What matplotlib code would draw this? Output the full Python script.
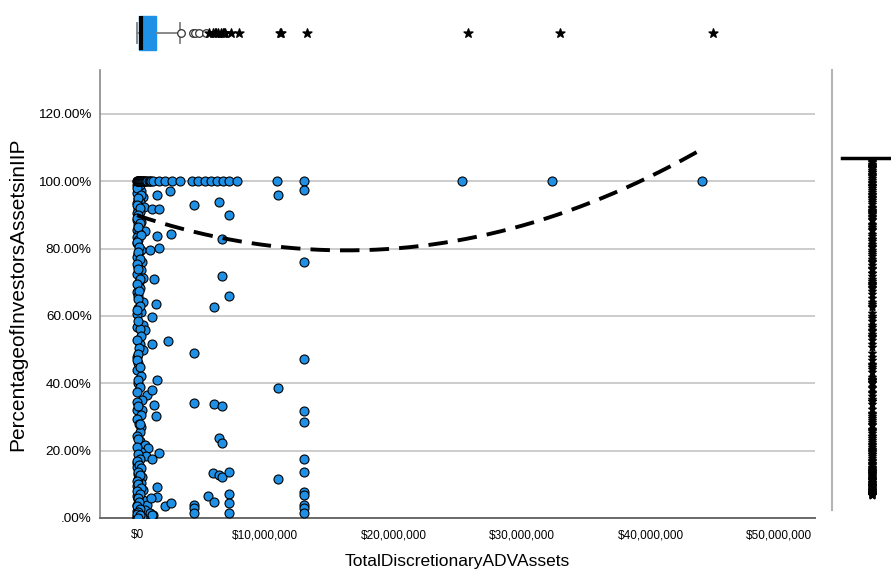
import numpy as np
import matplotlib
matplotlib.use('Agg')
import matplotlib.pyplot as plt

plt.rcParams['font.family'] = ['Liberation Sans', 'DejaVu Sans']

# total discretionary assets (millions of $) and percentage of investors' assets
col_x = [0.0, 0.15, 0.05, 0.3, 0.0, 0.49, 0.1, 0.25, 0.0, 0.55, 0.05, 0.2, 0.0, 0.1,
         0.0, 0.3, 0.05, 0.0, 0.62, 0.15, 0.0, 0.05, 0.0, 0.3, 0.1, 0.0, 0.4, 0.05,
         0.3, 0.0, 0.5, 0.15, 0.1, 0.2, 0.0, 0.05, 0.45, 0.1, 0.3, 0.0, 0.0, 0.5,
         0.6, 0.25, 0.2, 0.5, 0.0, 0.1, 0.0, 0.3, 0.1, 0.76, 0.37, 0.0, 0.0, 0.37,
         0.3, 0.2, 0.0, 0.2, 0.6, 0.85, 0.3, 0.7, 0.0, 0.2, 0.4, 0.3, 0.5, 0.55,
         0.7, 0.0, 0.05, 0.1, 0.0, 0.15, 0.0, 0.1, 0.25, 0.0, 0.3, 0.05, 0.0, 0.2,
         0.1, 0.0, 0.35, 0.0, 0.15, 0.45, 0.5, 0.75, 0.62, 1.0, 1.27, 0.37,
         0.2, 0.0, 0.35, 0.1, 0.0, 0.2, 0.1, 0.0, 0.25, 0.05, 0.3, 0.0, 0.15, 0.05,
         0.2, 0.0, 0.1, 0.25, 0.0, 0.15, 0.05, 0.2, 0.0, 0.1, 0.3, 0.0, 0.15, 0.1,
         0.0, 0.2, 0.05, 0.25, 0.0, 0.1, 0.3, 0.0, 0.15, 0.2, 0.05, 0.0, 0.1, 0.25,
         0.0, 0.15, 0.3, 0.05, 0.2, 0.0, 0.1, 0.35, 0.0, 0.2, 0.05, 0.15, 0.0, 0.25,
         0.1, 0.0, 0.2, 0.05]
col_y = [99.0, 98.2, 97.5, 97.0, 96.4, 95.4, 94.8, 94.0, 93.5, 92.5, 91.8, 91.0, 90.5, 89.3,
         88.5, 88.0, 87.0, 85.5, 85.3, 84.5, 83.5, 82.5, 81.6, 79.6, 78.5, 77.6, 76.1, 74.6,
         73.6, 72.6, 71.4, 70.0, 69.2, 68.2, 67.0, 66.0, 64.2, 62.3, 61.3, 60.5, 56.8, 57.3,
         55.8, 56.2, 51.6, 49.9, 47.9, 45.9, 43.9, 42.2, 40.2, 36.5, 35.0, 34.5, 32.1, 32.1,
         26.9, 25.6, 24.3, 22.9, 21.7, 20.7, 19.7, 18.4, 16.2, 14.3, 12.3, 10.3, 8.3, 4.4,
         2.4, 15.0, 13.0, 11.5, 9.5, 7.5, 6.5, 5.5, 5.0, 4.0, 3.3, 2.8, 2.0, 1.5,
         1.0, 0.5, 0.6, 0.0, 0.2, 0.3, 5.3, 3.9, 2.4, 1.4, 0.9, 0.4,
         98.8, 97.9, 96.0, 95.0, 93.0, 92.0, 90.0, 89.0, 87.5, 86.5, 84.0, 82.0, 80.5, 79.0,
         77.0, 75.5, 74.0, 71.0, 69.5, 67.5, 65.0, 63.0, 61.8, 58.5, 54.0, 53.0, 50.5, 48.8,
         46.8, 44.8, 41.0, 39.0, 37.5, 33.3, 30.5, 29.5, 28.0, 27.8, 23.5, 21.0, 18.9, 17.5,
         16.8, 15.6, 14.8, 13.6, 12.8, 11.0, 10.0, 9.0, 8.0, 7.0, 6.0, 4.8, 3.6, 2.6,
         1.8, 1.2, 0.8, 0.1]

top_x = [0.0, 0.02, 0.05, 0.08, 0.1, 0.12, 0.15, 0.18, 0.2, 0.25, 0.3, 0.35, 0.4, 0.45,
         0.5, 0.55, 0.6, 0.7, 0.8, 0.9, 1.0, 1.1, 1.25, 1.7, 2.2, 2.7, 3.35, 4.26, 4.75,
         5.3, 5.8, 6.2, 6.7, 7.2, 7.8, 10.9, 13.0, 25.3, 32.3, 44.0]
top_y = [100.0] * len(top_x)

mid_x = [1.53, 2.57, 1.14, 1.74, 1.53, 2.65, 1.0, 1.74, 1.3, 1.5, 1.2, 2.45, 1.2, 1.53,
         1.14, 1.3, 1.5, 1.74, 1.14, 1.53, 1.53, 1.07, 2.15, 2.62, 1.14]
mid_y = [96.0, 97.2, 91.7, 91.7, 83.8, 84.2, 79.6, 80.1, 71.0, 63.6, 59.6, 52.6, 51.6, 41.0,
         38.0, 33.5, 30.4, 19.2, 17.4, 9.2, 6.3, 6.0, 3.6, 4.6, 0.9]

far_x = [4.46, 6.4, 7.2, 6.6, 6.6, 7.2, 6.0, 4.46, 4.46, 6.0, 6.65, 6.4, 6.65, 5.95,
         6.4, 6.65, 7.2, 5.5, 6.0, 7.2, 7.2, 7.2, 4.46, 4.46, 4.46, 10.96, 10.96, 10.96,
         13.0, 13.0, 13.0, 13.0, 13.0, 13.0, 13.0, 13.0, 13.0, 13.0, 13.0, 13.0]
far_y = [93.0, 94.0, 90.0, 82.8, 72.0, 65.9, 62.7, 49.0, 34.2, 34.0, 33.4, 23.9, 22.2, 13.3,
         12.8, 12.1, 13.6, 6.6, 4.8, 7.1, 4.5, 1.6, 3.9, 2.9, 1.6, 95.8, 38.7, 11.5,
         97.3, 76.0, 47.1, 31.8, 28.5, 17.5, 13.6, 7.8, 6.8, 3.9, 3.0, 1.6]

# quadratic fit line: y = a + b*x + c*x^2 (x in millions)
fit_coef = [89.9, -1.278, 0.0392]

# marginal boxplot of assets (millions)
box_q1, box_med, box_q3 = 0.18, 0.3, 1.45
box_whislo, box_whishi = 0.0, 3.25
extreme_fence = 5.4

x_ticks = [0, 10, 20, 30, 40, 50]
x_ticklabels = ['$0', '$10,000,000', '$20,000,000', '$30,000,000', '$40,000,000', '$50,000,000']
y_ticks = [0, 20, 40, 60, 80, 100, 120]
y_ticklabels = ['.00%', '20.00%', '40.00%', '60.00%', '80.00%', '100.00%', '120.00%']

blue = '#1E90E6'

x = np.array(col_x + top_x + mid_x + far_x)
y = np.array(col_y + top_y + mid_y + far_y)

W, H = 891, 575
fig = plt.figure(figsize=(W / 100, H / 100), dpi=100)

ax = fig.add_axes([100 / W, 1 - 518 / H, 715 / W, 448 / H])
ax.set_xlim(-37 / 12.84, 678 / 12.84)
ax.set_ylim(0, 448 / 3.367)
ax.scatter(x, y, s=42, c=blue, edgecolors='black', linewidths=0.8, zorder=3)

xf = np.linspace(x.min(), x.max(), 200)
yf = fit_coef[0] + fit_coef[1] * xf + fit_coef[2] * xf ** 2
ax.plot(xf, yf, color='black', lw=2.8, dashes=(5, 2.6), zorder=4)

ax.set_xticks(x_ticks)
ax.set_xticklabels(x_ticklabels, fontsize=8.5)
ax.set_yticks(y_ticks)
ax.set_yticklabels(y_ticklabels, fontsize=9.7)
ax.tick_params(length=0, pad=8)
ax.tick_params(axis='y', pad=6)
ax.yaxis.grid(True, color='#cccccc', lw=1.4)
ax.set_axisbelow(True)
for s in ['top', 'right']:
    ax.spines[s].set_visible(False)
ax.spines['left'].set_color('#8a8a8a')
ax.spines['bottom'].set_color('#6a6a6a')
ax.spines['left'].set_linewidth(1.2)
ax.spines['bottom'].set_linewidth(1.4)
ax.set_xlabel('TotalDiscretionaryADVAssets', fontsize=12.5, labelpad=9)
ax.set_ylabel('PercentageofInvestorsAssetsinIIP', fontsize=15, labelpad=8)

# top marginal boxplot
axt = fig.add_axes([100 / W, 1 - 56 / H, 715 / W, 46 / H])
axt.set_xlim(-37 / 13.1, 678 / 13.1)
axt.set_ylim(0, 1)
axt.axis('off')
stats = [{'med': box_med, 'q1': box_q1, 'q3': box_q3,
          'whislo': box_whislo, 'whishi': box_whishi, 'fliers': []}]
axt.bxp(stats, positions=[0.5], widths=0.75, orientation='horizontal',
        patch_artist=True, showfliers=False, capwidths=0.45,
        boxprops=dict(facecolor=blue, edgecolor=blue),
        medianprops=dict(color='black', lw=3),
        whiskerprops=dict(color='#808080', lw=1.3),
        capprops=dict(color='#808080', lw=1.3))
out_x = np.unique(x[(x > box_whishi) & (x <= extreme_fence)])
ext_x = np.unique(x[x > extreme_fence])
axt.scatter(out_x, np.full(len(out_x), 0.5), s=30, marker='o', facecolors='white',
            edgecolors='#333333', linewidths=0.9, zorder=3)
axt.scatter(ext_x, np.full(len(ext_x), 0.5), s=45, marker='*', color='black', zorder=3)

# right marginal boxplot
axr = fig.add_axes([832 / W, 1 - 510 / H, 59 / W, 440 / H])
axr.set_xlim(0, 59)
axr.set_ylim(-15 / 3.367, 100 + 88 / 3.367)
for s in ['top', 'right', 'bottom']:
    axr.spines[s].set_visible(False)
axr.spines['left'].set_color('#b5b5b5')
axr.spines['left'].set_linewidth(1.5)
axr.set_xticks([])
axr.set_yticks([])
axr.plot([10, 70], [100, 100], color='black', lw=2.5)
ext_y = np.unique(y[y < 100])
axr.scatter(np.full(len(ext_y), 40), ext_y, s=32, marker='*', color='black', zorder=3)

fig.savefig('out.png', dpi=100)
